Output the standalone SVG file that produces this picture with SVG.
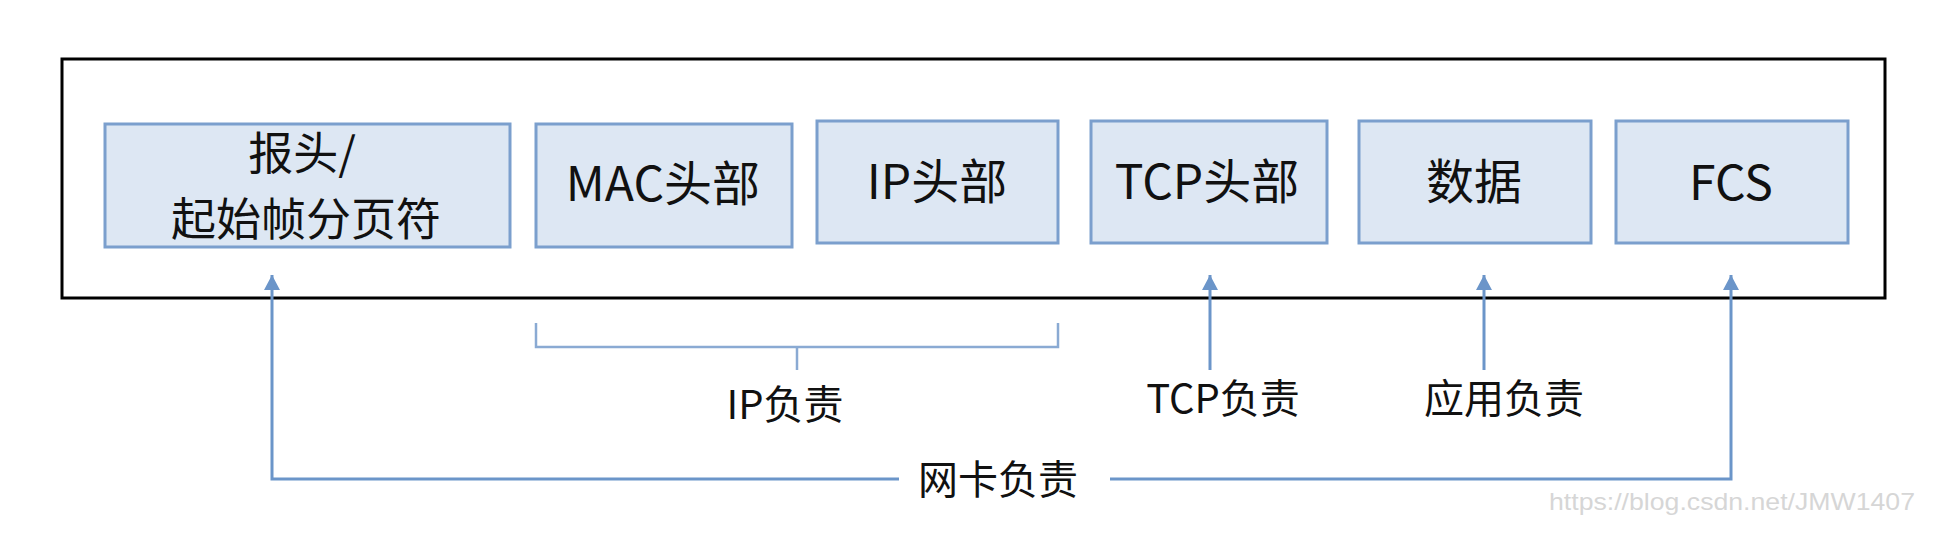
<svg xmlns="http://www.w3.org/2000/svg" width="1948" height="554" viewBox="0 0 1948 554">
<style>
.node{fill:#dde7f3;stroke:#7b9fcd;stroke-width:3}
.nt{font-family:"Noto Sans CJK SC","Noto Sans",sans-serif;font-size:48px;fill:#111;text-anchor:middle}
.nt2{font-family:"Noto Sans CJK SC","Noto Sans",sans-serif;font-size:45px;fill:#111;text-anchor:middle}
.lt{font-family:"Noto Sans CJK SC","Noto Sans",sans-serif;font-size:40px;fill:#111;text-anchor:middle}
.ln{fill:none;stroke:#6b95c9;stroke-width:3}
.br{fill:none;stroke:#8aaad3;stroke-width:2.5}
</style>
<defs>
<marker id="ah" markerUnits="userSpaceOnUse" markerWidth="16" markerHeight="16" refX="15" refY="8" orient="auto">
<path d="M0,0 L15,8 L0,16 Z" fill="#6b95c9"/>
</marker>
</defs>
<rect id="frame" x="62" y="59" width="1823" height="239" fill="#fff" stroke="#000" stroke-width="3"/>
<g id="n1"><rect class="node" x="105" y="124" width="405" height="123"/><text class="nt2" x="302" y="170">报头/</text><text class="nt2" x="306" y="236">起始帧分页符</text></g>
<g id="n2"><rect class="node" x="536" y="124" width="256" height="123"/><text class="nt" x="663" y="201">MAC头部</text></g>
<g id="n3"><rect class="node" x="817" y="121" width="241" height="122"/><text class="nt" x="937" y="199">IP头部</text></g>
<g id="n4"><rect class="node" x="1091" y="121" width="236" height="122"/><text class="nt" x="1207" y="199">TCP头部</text></g>
<g id="n5"><rect class="node" x="1359" y="121" width="232" height="122"/><text class="nt" x="1474" y="199">数据</text></g>
<g id="n6"><rect class="node" x="1616" y="121" width="232" height="122"/><text class="nt" x="1731" y="200">FCS</text></g>
<g id="connectors">
<path class="ln" d="M899,479 H272 V275" marker-end="url(#ah)"/>
<path class="ln" d="M1110,479 H1731 V275" marker-end="url(#ah)"/>
<path class="ln" d="M1210,370 V275" marker-end="url(#ah)"/>
<path class="ln" d="M1484,370 V275" marker-end="url(#ah)"/>
<path class="br" d="M536,323 V347 H1058 V323 M797,347 V370"/>
</g>
<g id="labels">
<text class="lt" x="785" y="419">IP负责</text>
<text class="lt" x="1223" y="413">TCP负责</text>
<text class="lt" x="1504" y="413">应用负责</text>
<text class="lt" x="998" y="494">网卡负责</text>
</g>
<text x="1549" y="510" font-family="Liberation Sans, sans-serif" font-size="24" fill="#d6d6d6" textLength="366" lengthAdjust="spacingAndGlyphs">https://blog.csdn.net/JMW1407</text>
</svg>
